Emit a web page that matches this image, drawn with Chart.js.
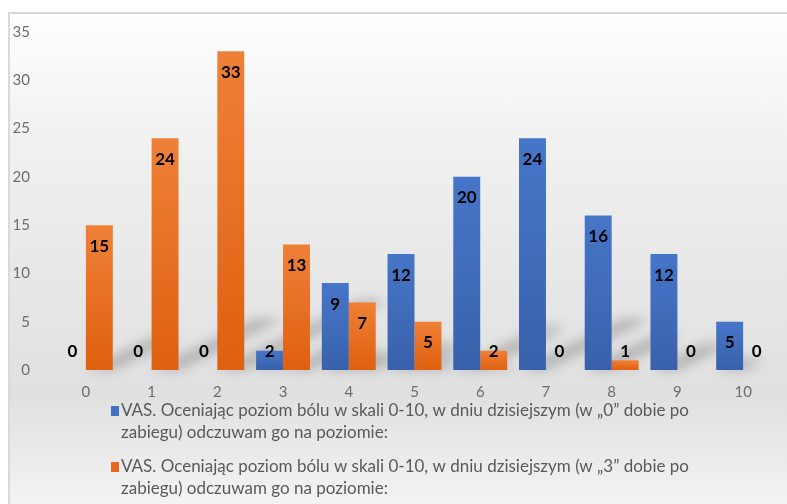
<!DOCTYPE html>
<html>
<head>
<meta charset="utf-8">
<script src="https://cdn.jsdelivr.net/npm/chart.js@4/dist/chart.umd.min.js"></script>
<style>
  html, body { margin: 0; padding: 0; background: #fff; overflow: hidden; }
  #frame {
    position: absolute; left: 8px; top: 12px;
    width: 790px; height: 500px;
    border-left: 2px solid #d9d9d9; border-top: 2px solid #d9d9d9;
    background: linear-gradient(to bottom, #ffffff 0%, #f1f1f1 25%, #e5e5e5 60%, #e0e0e0 76%, #ececec 90%, #f6f6f6 100%);
  }
  canvas { display: block; }
</style>
</head>
<body>
<div id="frame"><canvas id="chart" width="790" height="500"></canvas></div>
<script>
const categories = ["0", "1", "2", "3", "4", "5", "6", "7", "8", "9", "10"];
const day0Values = [0, 0, 0, 2, 9, 12, 20, 24, 16, 12, 5];
const day3Values = [15, 24, 33, 13, 7, 5, 2, 0, 1, 0, 0];
const seriesLabels = [
  ["VAS. Oceniając poziom bólu w skali 0-10, w dniu dzisiejszym (w \u201e0\u201d dobie po", "zabiegu) odczuwam go na poziomie:"],
  ["VAS. Oceniając poziom bólu w skali 0-10, w dniu dzisiejszym (w \u201e3\u201d dobie po", "zabiegu) odczuwam go na poziomie:"]
];
const yTicks = [0, 5, 10, 15, 20, 25, 30, 35];

const FONT = "Lato, 'Liberation Sans', sans-serif";

function barGradient(top, bottom) {
  return function (context) {
    const chart = context.chart;
    const y = chart.scales && chart.scales.y;
    if (!y || !context.parsed) return bottom;
    const y0 = y.getPixelForValue(context.parsed.y);
    const y1 = y.getPixelForValue(0);
    if (!isFinite(y0) || !isFinite(y1) || y1 - y0 < 1) return bottom;
    const g = chart.ctx.createLinearGradient(0, y0, 0, y1);
    g.addColorStop(0, top);
    g.addColorStop(1, bottom);
    return g;
  };
}

// soft diagonal floor shadows behind each bar
const shadowPlugin = {
  id: "barShadows",
  beforeDatasetsDraw(chart) {
    const ctx = chart.ctx;
    ctx.save();
    ctx.filter = "blur(6px)";
    ctx.fillStyle = "rgba(0,0,0,0.22)";
    chart.data.datasets.forEach((ds, i) => {
      chart.getDatasetMeta(i).data.forEach(bar => {
        const h = bar.base - bar.y;
        if (h < 2) return;
        const left = bar.x - bar.width / 2, right = bar.x + bar.width / 2;
        const dx = h * 0.45, dy = h * 0.22;
        ctx.beginPath();
        ctx.moveTo(left, bar.base);
        ctx.lineTo(right, bar.base);
        ctx.lineTo(right + dx, bar.base - dy);
        ctx.lineTo(left + dx, bar.base - dy);
        ctx.closePath();
        ctx.fill();
      });
    });
    ctx.restore();
  }
};

const valueLabelPlugin = {
  id: "valueLabels",
  afterDatasetsDraw(chart) {
    const ctx = chart.ctx;
    ctx.save();
    ctx.font = "bold 17px " + FONT;
    ctx.fillStyle = "#000";
    ctx.textAlign = "center";
    ctx.textBaseline = "middle";
    chart.data.datasets.forEach((ds, i) => {
      chart.getDatasetMeta(i).data.forEach((bar, j) => {
        const y = Math.min(bar.y + 21, bar.base - 18);
        ctx.fillText(String(ds.data[j]), bar.x, y);
      });
    });
    ctx.restore();
  }
};

const legendPlugin = {
  id: "wrappedLegend",
  afterDraw(chart) {
    const ctx = chart.ctx;
    ctx.save();
    ctx.font = "17px " + FONT;
    ctx.textBaseline = "middle";
    ctx.textAlign = "left";
    const rows = [397, 453];
    chart.data.datasets.forEach((ds, i) => {
      const y = rows[i];
      ctx.fillStyle = ds.legendColor;
      ctx.fillRect(101, y - 5, 8, 10);
      ctx.fillStyle = "#595959";
      seriesLabels[i].forEach((line, k) => ctx.fillText(line, 111, y + k * 22));
    });
    ctx.restore();
  }
};

new Chart(document.getElementById("chart"), {
  type: "bar",
  data: {
    labels: categories,
    datasets: [
      {
        label: seriesLabels[0].join(" "),
        data: day0Values,
        backgroundColor: barGradient("#4676c9", "#3961ab"),
        legendColor: "#4472c4",
        categoryPercentage: 0.82,
        barPercentage: 1.0
      },
      {
        label: seriesLabels[1].join(" "),
        data: day3Values,
        backgroundColor: barGradient("#ef8037", "#df600f"),
        legendColor: "#e8691d",
        categoryPercentage: 0.82,
        barPercentage: 1.0
      }
    ]
  },
  options: {
    responsive: false,
    animation: false,
    layout: { padding: { top: 18, right: 24, bottom: 112, left: 0 } },
    plugins: {
      legend: { display: false },
      tooltip: { enabled: false }
    },
    scales: {
      x: {
        grid: { display: false },
        border: { display: false },
        ticks: { color: "#6d6d6d", font: { family: FONT, size: 15 }, padding: 5 },
        afterFit(scale) { scale.height = 32; scale.paddingLeft = 0; scale.paddingRight = 0; }
      },
      y: {
        min: 0,
        max: 35,
        afterBuildTicks(scale) { scale.ticks = yTicks.map(v => ({ value: v })); },
        grid: { display: false },
        border: { display: false },
        ticks: { color: "#6d6d6d", font: { family: FONT, size: 15 }, padding: 15 },
        afterFit(scale) { scale.width = 43; scale.paddingTop = 0; scale.paddingBottom = 0; }
      }
    }
  },
  plugins: [shadowPlugin, valueLabelPlugin, legendPlugin]
});
</script>
</body>
</html>
